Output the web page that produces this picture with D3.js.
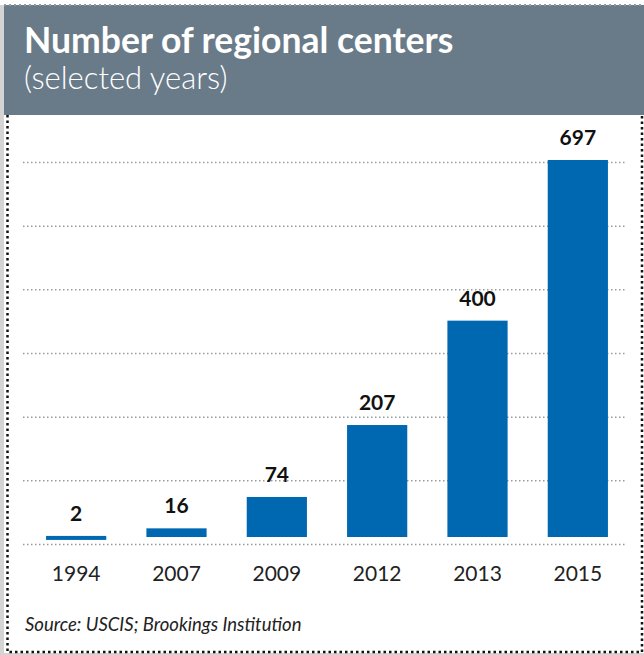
<!DOCTYPE html>
<html>
<head>
<meta charset="utf-8">
<script src="https://cdn.jsdelivr.net/npm/d3@7"></script>
<style>
  html, body { margin: 0; padding: 0; background: #fff; }
</style>
</head>
<body>
<div id="wrapper"></div>
<script>
const years = ['1994', '2007', '2009', '2012', '2013', '2015'];
const centers = [2, 16, 74, 207, 400, 697];
const gridLevels = [0, 1, 2, 3, 4, 5, 6];

const titleText = 'Number of regional centers';
const subtitleText = '(selected years)';
const sourceText = 'Source: USCIS; Brookings Institution';

function drawChart() {
  const dimensions = {
    width: 644,
    height: 655,
    header: { top: 5, bottom: 115, left: 4 },
    plot: { left: 26, right: 628, top: 160, bottom: 537 },
    grid: { left: 23, right: 625, top: 162, bottom: 544 },
  };

  const data = years.map((y, i) => ({ year: y, value: centers[i] }));

  const wrapper = d3
    .select('#wrapper')
    .append('svg')
    .attr('width', dimensions.width)
    .attr('height', dimensions.height)
    .style('display', 'block');

  // frame: soft shadow on left/bottom, header band, dotted borders
  wrapper.append('rect')
    .attr('x', 0).attr('y', 5)
    .attr('width', 4).attr('height', dimensions.height - 5)
    .attr('fill', '#d4d4d4');
  wrapper.append('rect')
    .attr('x', 0).attr('y', dimensions.height - 2)
    .attr('width', dimensions.width).attr('height', 2)
    .attr('fill', '#d4d4d4');

  wrapper.append('rect')
    .attr('x', dimensions.header.left)
    .attr('y', dimensions.header.top)
    .attr('width', dimensions.width - dimensions.header.left)
    .attr('height', dimensions.header.bottom - dimensions.header.top)
    .attr('fill', '#697b89');

  wrapper.append('line')
    .attr('x1', 4).attr('x2', dimensions.width)
    .attr('y1', 5).attr('y2', 5)
    .attr('stroke', '#999').attr('stroke-width', 2)
    .attr('stroke-dasharray', '2,3');

  const border = 'M7.5,115 V652 H642 V115';
  wrapper.append('path')
    .attr('d', border)
    .attr('fill', 'none')
    .attr('stroke', '#111')
    .attr('stroke-width', 2.5)
    .attr('stroke-dasharray', '2.5,3');

  // titles
  wrapper.append('text')
    .attr('x', 24).attr('y', 53)
    .attr('fill', '#fff')
    .style('font-family', 'Lato, "Open Sans", sans-serif')
    .style('font-weight', 'bold')
    .style('font-size', '35.5px')
    .text(titleText);

  wrapper.append('text')
    .attr('x', 24).attr('y', 89)
    .attr('fill', '#fff')
    .style('font-family', 'Lato, "Open Sans", sans-serif')
    .style('font-weight', 300)
    .style('font-size', '31px')
    .text(subtitleText);

  // scales
  const xScale = d3.scaleBand()
    .domain(years)
    .range([dimensions.plot.left, dimensions.plot.right])
    .paddingInner(0.4)
    .paddingOuter(0.2);

  const yScale = d3.scaleLinear()
    .domain([0, 697])
    .range([dimensions.plot.bottom, dimensions.plot.top]);

  const gridScale = d3.scaleLinear()
    .domain([0, 6])
    .range([dimensions.grid.bottom, dimensions.grid.top]);

  // gridlines
  const gridAxis = d3.axisLeft(gridScale)
    .tickValues(gridLevels)
    .tickSize(-(dimensions.grid.right - dimensions.grid.left))
    .tickFormat('');

  const grid = wrapper.append('g')
    .attr('transform', `translate(${dimensions.grid.left},0)`)
    .call(gridAxis);
  grid.select('.domain').remove();
  grid.selectAll('.tick line')
    .attr('stroke', '#9a9a9a')
    .attr('stroke-width', 1.5)
    .attr('stroke-dasharray', '1.5,2.5');

  // bars
  wrapper.append('g')
    .selectAll('rect')
    .data(data)
    .join('rect')
    .attr('x', (d) => xScale(d.year))
    .attr('y', (d) => yScale(d.value))
    .attr('width', xScale.bandwidth())
    .attr('height', (d) => Math.max(yScale(0) - yScale(d.value), 4))
    .attr('fill', '#0067b1');

  // value labels
  wrapper.append('g')
    .selectAll('text')
    .data(data)
    .join('text')
    .attr('x', (d) => xScale(d.year) + xScale.bandwidth() / 2)
    .attr('y', (d) => yScale(d.value) - 15)
    .attr('text-anchor', 'middle')
    .attr('fill', '#111')
    .style('font-family', 'Lato, "Open Sans", sans-serif')
    .style('font-weight', 'bold')
    .style('font-size', '21px')
    .text((d) => d.value);

  // x axis labels
  const xAxis = wrapper.append('g')
    .attr('transform', `translate(0,${dimensions.grid.bottom})`)
    .call(d3.axisBottom(xScale).tickSize(0).tickPadding(22));
  xAxis.select('.domain').remove();
  xAxis.selectAll('text')
    .attr('fill', '#222')
    .style('font-family', 'Lato, "Open Sans", sans-serif')
    .style('font-size', '21px');

  // source
  wrapper.append('text')
    .attr('x', 25).attr('y', 631)
    .attr('fill', '#222')
    .style('font-family', 'Lato, "Open Sans", sans-serif')
    .style('font-style', 'italic')
    .style('font-size', '18.5px')
    .text(sourceText);
}

drawChart();
</script>
</body>
</html>
